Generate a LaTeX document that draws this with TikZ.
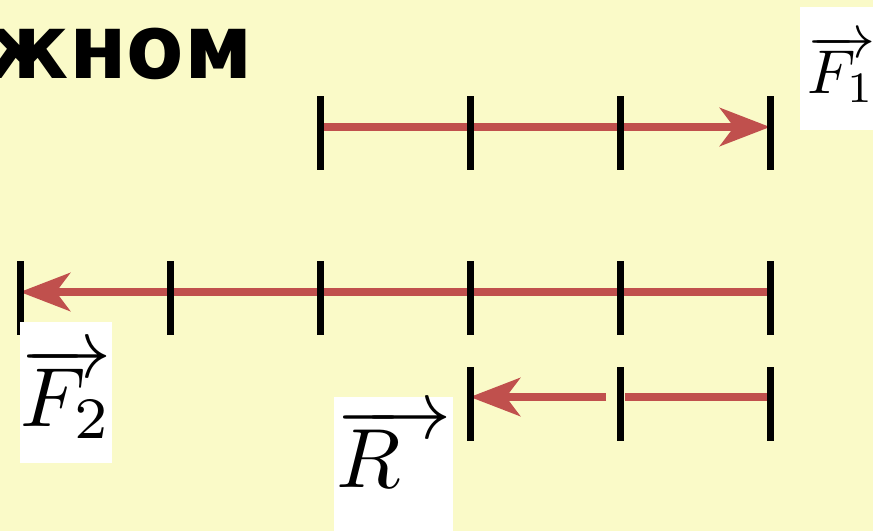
\documentclass[tikz,border=0pt]{standalone}
\usepackage{fontspec}
\newfontfamily\headfont[FakeStretch=0.93]{DejaVu Sans}
\usetikzlibrary{arrows.meta}
\definecolor{bgyellow}{RGB}{250,250,200}
\definecolor{forcered}{RGB}{192,80,77}

\begin{document}
\begin{tikzpicture}
  [x=1pt,y=-1pt,
   tick/.style={fill=black,inner sep=0pt,minimum width=7pt,minimum height=74pt},
   force/.style={draw=forcered,line width=8pt},
   head/.style={-{Stealth[length=50pt,width=38pt,inset=14pt]}},
   lbl/.style={fill=white,inner sep=0pt,anchor=north west}]
  \fill[bgyellow] (0,0) rectangle (873,531);
  \clip (0,0) rectangle (873,531);

  \node[anchor=base east,inner sep=0pt,
        font=\headfont\bfseries\fontsize{90}{90}\selectfont] (title) at (253,78) {ожном};

  % first row
  \coordinate (a3) at (320,127);
  \coordinate (a4) at (470,127);
  \coordinate (a5) at (620,127);
  \coordinate (a6) at (770,127);
  % second row
  \coordinate (b1) at (20,292);
  \coordinate (b2) at (170,292);
  \coordinate (b3) at (320,292);
  \coordinate (b4) at (470,292);
  \coordinate (b5) at (620,292);
  \coordinate (b6) at (770,292);
  % third row
  \coordinate (c4) at (470,397);
  \coordinate (c5) at (620,397);
  \coordinate (c6) at (770,397);
  \coordinate (c45) at (606,397);
  \coordinate (c54) at (625,397);

  \draw[force,head] (a3) -- (a6);
  \draw[force,head] (b6) -- (b1);
  \draw[force,head] (c45) -- (c4);
  \draw[force] (c54) -- (c6);

  \node[tick] (ta3) at (320,133) {};
  \node[tick] (ta4) at (470,133) {};
  \node[tick] (ta5) at (620,133) {};
  \node[tick] (ta6) at (770,133) {};
  \node[tick] (tb1) at (20,298) {};
  \node[tick] (tb2) at (170,298) {};
  \node[tick] (tb3) at (320,298) {};
  \node[tick] (tb4) at (470,298) {};
  \node[tick] (tb5) at (620,298) {};
  \node[tick] (tb6) at (770,298) {};
  \node[tick] (tc4) at (470,404) {};
  \node[tick] (tc5) at (620,404) {};
  \node[tick] (tc6) at (770,404) {};

  \node[lbl,minimum width=82pt,minimum height=123pt]
       (f1) at (800,7) {\scalebox{6.2}{$\overrightarrow{F_1}$}};
  \node[lbl,minimum width=92pt,minimum height=141pt]
       (f2) at (20,322) {\scalebox{8.4}{$\overrightarrow{F_2}$}};
  \node[lbl,minimum width=119pt,minimum height=140pt,text depth=40pt]
       (r) at (334,397) {\scalebox{8.4}{$\overrightarrow{R\kern6pt}$}};
\end{tikzpicture}
\end{document}
